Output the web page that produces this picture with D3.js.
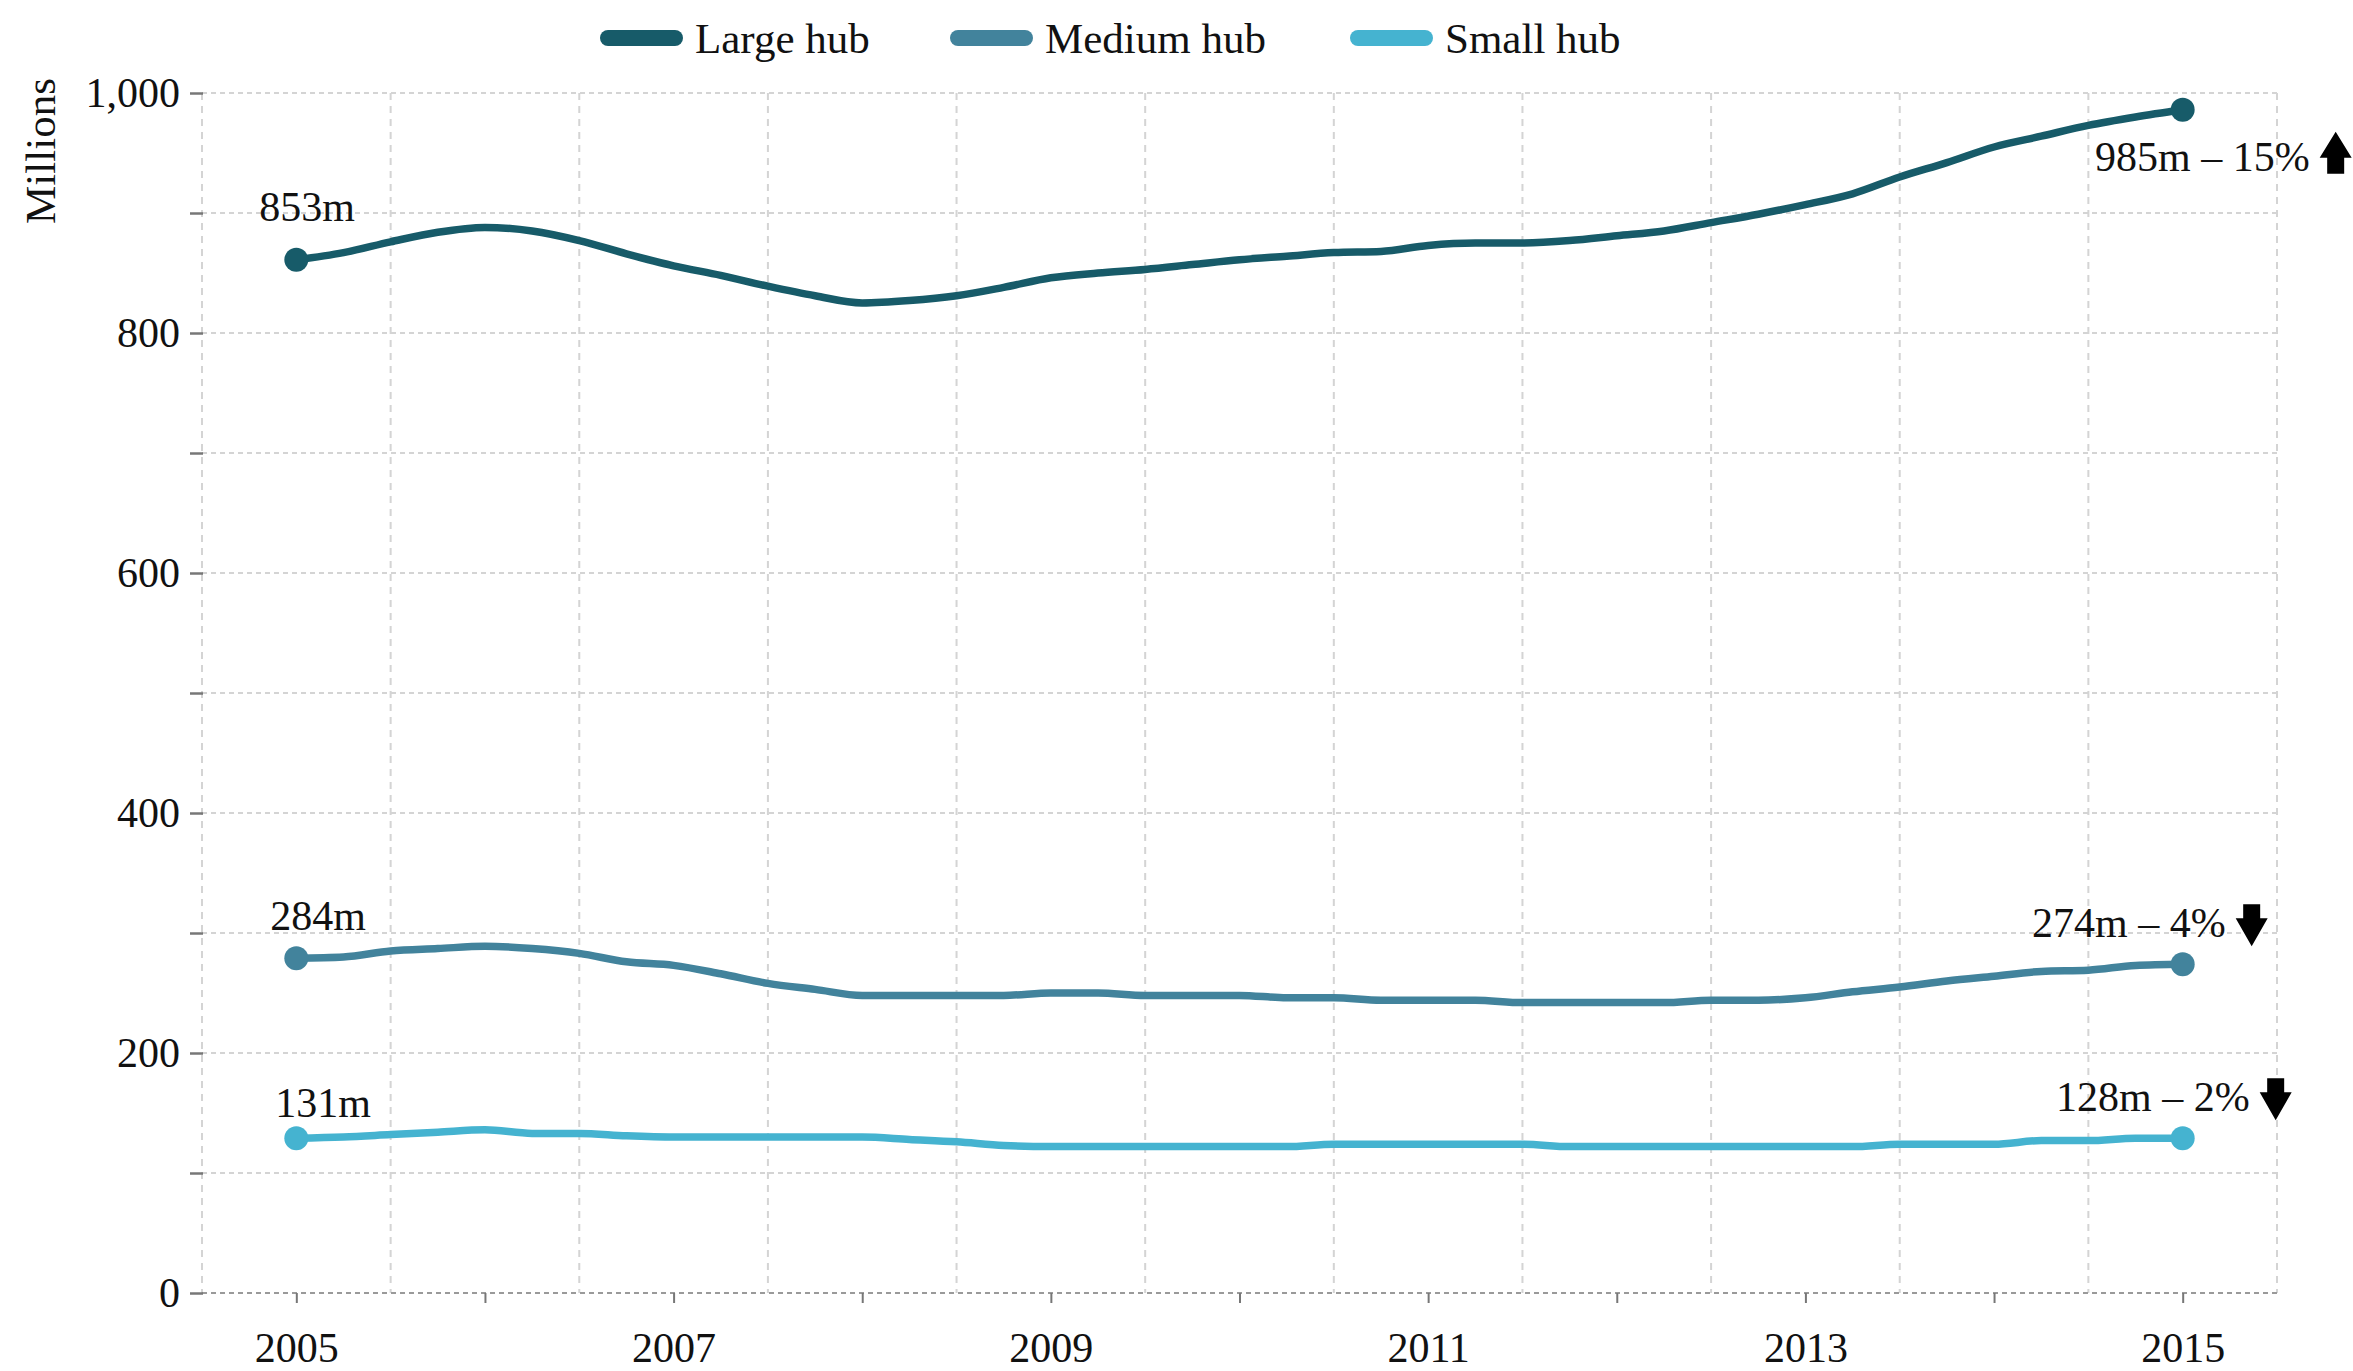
<!DOCTYPE html>
<html>
<head>
<meta charset="utf-8">
<script src="https://cdn.jsdelivr.net/npm/d3@7"></script>
<style>
  body { margin: 0; background: #fff; }
  text { font-family: "Liberation Serif", "DejaVu Serif", serif; fill: #111; }
</style>
</head>
<body>
<div id="chart"></div>
<script>
var w = 2353;
var h = 1371;

// quarterly points, 2005 Q1 .. 2015 Q1
var quarters = [2005, 2005.25, 2005.5, 2005.75, 2006, 2006.25, 2006.5, 2006.75,
  2007, 2007.25, 2007.5, 2007.75, 2008, 2008.25, 2008.5, 2008.75,
  2009, 2009.25, 2009.5, 2009.75, 2010, 2010.25, 2010.5, 2010.75,
  2011, 2011.25, 2011.5, 2011.75, 2012, 2012.25, 2012.5, 2012.75,
  2013, 2013.25, 2013.5, 2013.75, 2014, 2014.25, 2014.5, 2014.75, 2015];

var largeHub = [861, 867, 876, 884, 888, 885, 877, 866,
  856, 848, 839, 831, 825, 827, 831, 838,
  846, 850, 853, 857, 861, 864, 867, 868,
  873, 875, 875, 877, 881, 885, 892, 899,
  907, 916, 930, 942, 955, 964, 973, 980, 986];

var mediumHub = [279, 280, 285, 287, 289, 287, 283, 276,
  273, 266, 258, 253, 248, 248, 248, 248,
  250, 250, 248, 248, 248, 246, 246, 244,
  244, 244, 242, 242, 242, 242, 244, 244,
  246, 251, 255, 260, 264, 268, 269, 273, 274];

var smallHub = [129, 130, 132, 134, 136, 133, 133, 131,
  130, 130, 130, 130, 130, 128, 126, 123,
  122, 122, 122, 122, 122, 122, 124, 124,
  124, 124, 124, 122, 122, 122, 122, 122,
  122, 122, 124, 124, 124, 127, 127, 129, 129];

var seriesNames = ["Large hub", "Medium hub", "Small hub"];
var startLabels = ["853m", "284m", "131m"];
var endLabels = ["985m \u2013 15%", "274m \u2013 4%", "128m \u2013 2%"];
var changeDir = ["up", "down", "down"];

var yTicks = [0, 100, 200, 300, 400, 500, 600, 700, 800, 900, 1000];
var xTicks = [2005, 2006, 2007, 2008, 2009, 2010, 2011, 2012, 2013, 2014, 2015];
var xGrid = [2004.5, 2005.5, 2006.5, 2007.5, 2008.5, 2009.5, 2010.5, 2011.5, 2012.5, 2013.5, 2014.5, 2015.5];

var colors = ["#175b69", "#42839c", "#45b3d0"];

var series = [largeHub, mediumHub, smallHub].map(function(vals, i) {
  return {
    name: seriesNames[i],
    values: vals.map(function(v, j) { return { t: quarters[j], v: v }; })
  };
});

var svg = d3.select("#chart")
  .append("svg")
  .attr("width", w)
  .attr("height", h);

var x = d3.scaleLinear().domain([2004.5, 2015.5]).range([202, 2277]);
var y = d3.scaleLinear().domain([0, 1000]).range([1293, 93]);

// grid
svg.append("g").selectAll("line")
  .data(xGrid)
  .enter()
  .append("line")
  .attr("x1", function(d) { return x(d); })
  .attr("x2", function(d) { return x(d); })
  .attr("y1", y(1000))
  .attr("y2", y(0))
  .attr("stroke", "#d4d4d4")
  .attr("stroke-width", 2)
  .attr("stroke-dasharray", "7,6");

svg.append("g").selectAll("line")
  .data(yTicks)
  .enter()
  .append("line")
  .attr("x1", x(2004.5))
  .attr("x2", x(2015.5))
  .attr("y1", function(d) { return y(d); })
  .attr("y2", function(d) { return y(d); })
  .attr("stroke", function(d) { return d === 0 ? "#9a9a9a" : "#d4d4d4"; })
  .attr("stroke-width", 2)
  .attr("stroke-dasharray", "5,4");

// axes
var yAxis = svg.append("g")
  .attr("transform", "translate(" + (x(2004.5) + 1) + ",0)")
  .call(d3.axisLeft(y)
    .tickValues(yTicks)
    .tickSize(13)
    .tickPadding(10)
    .tickFormat(function(d) { return d % 200 === 0 ? d3.format(",")(d) : ""; }));
yAxis.select(".domain").remove();
yAxis.selectAll(".tick line").attr("stroke", "#777").attr("stroke-width", 2.5);
yAxis.selectAll("text").attr("font-size", 42).attr("fill", "#111")
  .attr("font-family", "Liberation Serif, serif");

var xAxis = svg.append("g")
  .attr("transform", "translate(0," + y(0) + ")")
  .call(d3.axisBottom(x)
    .tickValues(xTicks)
    .tickSize(10)
    .tickPadding(29)
    .tickFormat(function(d) { return d % 2 === 1 ? d : ""; }));
xAxis.select(".domain").remove();
xAxis.selectAll(".tick line").attr("stroke", "#777").attr("stroke-width", 2);
xAxis.selectAll("text").attr("font-size", 42).attr("fill", "#111")
  .attr("font-family", "Liberation Serif, serif");

svg.append("text")
  .attr("transform", "translate(55,151) rotate(-90)")
  .attr("text-anchor", "middle")
  .attr("font-size", 43)
  .text("Millions");

// lines
var line = d3.line()
  .x(function(d) { return x(d.t); })
  .y(function(d) { return y(d.v); })
  .curve(d3.curveMonotoneX);

svg.append("g").selectAll("path")
  .data(series)
  .enter()
  .append("path")
  .attr("fill", "none")
  .attr("stroke", function(d, i) { return colors[i]; })
  .attr("stroke-width", 7.5)
  .attr("stroke-linejoin", "round")
  .attr("stroke-linecap", "round")
  .attr("d", function(d) { return line(d.values); });

// end dots
series.forEach(function(s, i) {
  var first = s.values[0], last = s.values[s.values.length - 1];
  svg.selectAll(null)
    .data([first, last])
    .enter()
    .append("circle")
    .attr("cx", function(d) { return x(d.t); })
    .attr("cy", function(d) { return y(d.v); })
    .attr("r", 12)
    .attr("fill", colors[i]);
});

// start labels
var startOffset = [[-37, -39], [-26, -28], [-21, -21]];
series.forEach(function(s, i) {
  var first = s.values[0];
  svg.append("text")
    .attr("x", x(first.t) + startOffset[i][0])
    .attr("y", y(first.v) + startOffset[i][1])
    .attr("font-size", 42)
    .text(startLabels[i]);
});

// end labels with arrows
var endOffset = [[127, 61], [43, -27], [67, -27]];
var upArrow = "M0,-42 L16,-16 L8.5,-16 L8.5,0 L-8.5,0 L-8.5,-16 L-16,-16 Z";
var downArrow = "M-8.5,-42 L8.5,-42 L8.5,-28 L16,-28 L0,0 L-16,-28 L-8.5,-28 Z";
series.forEach(function(s, i) {
  var last = s.values[s.values.length - 1];
  var tx = x(last.t) + endOffset[i][0];
  var ty = y(last.v) + endOffset[i][1];
  svg.append("text")
    .attr("x", tx)
    .attr("y", ty)
    .attr("text-anchor", "end")
    .attr("font-size", 42)
    .text(endLabels[i]);
  var up = changeDir[i] === "up";
  svg.append("path")
    .attr("d", up ? upArrow : downArrow)
    .attr("transform", "translate(" + (tx + 26) + "," + (ty + (up ? 3 : 9)) + ")")
    .attr("fill", "#000");
});

// legend
var legendX = [600, 950, 1350];
var legend = svg.append("g").selectAll("g")
  .data(seriesNames)
  .enter()
  .append("g")
  .attr("transform", function(d, i) { return "translate(" + legendX[i] + ",38)"; });

legend.append("line")
  .attr("x1", 8)
  .attr("x2", 75)
  .attr("stroke", function(d, i) { return colors[i]; })
  .attr("stroke-width", 16)
  .attr("stroke-linecap", "round");

legend.append("text")
  .attr("x", 95)
  .attr("dy", "0.35em")
  .attr("font-size", 43)
  .text(function(d) { return d; });
</script>
</body>
</html>
